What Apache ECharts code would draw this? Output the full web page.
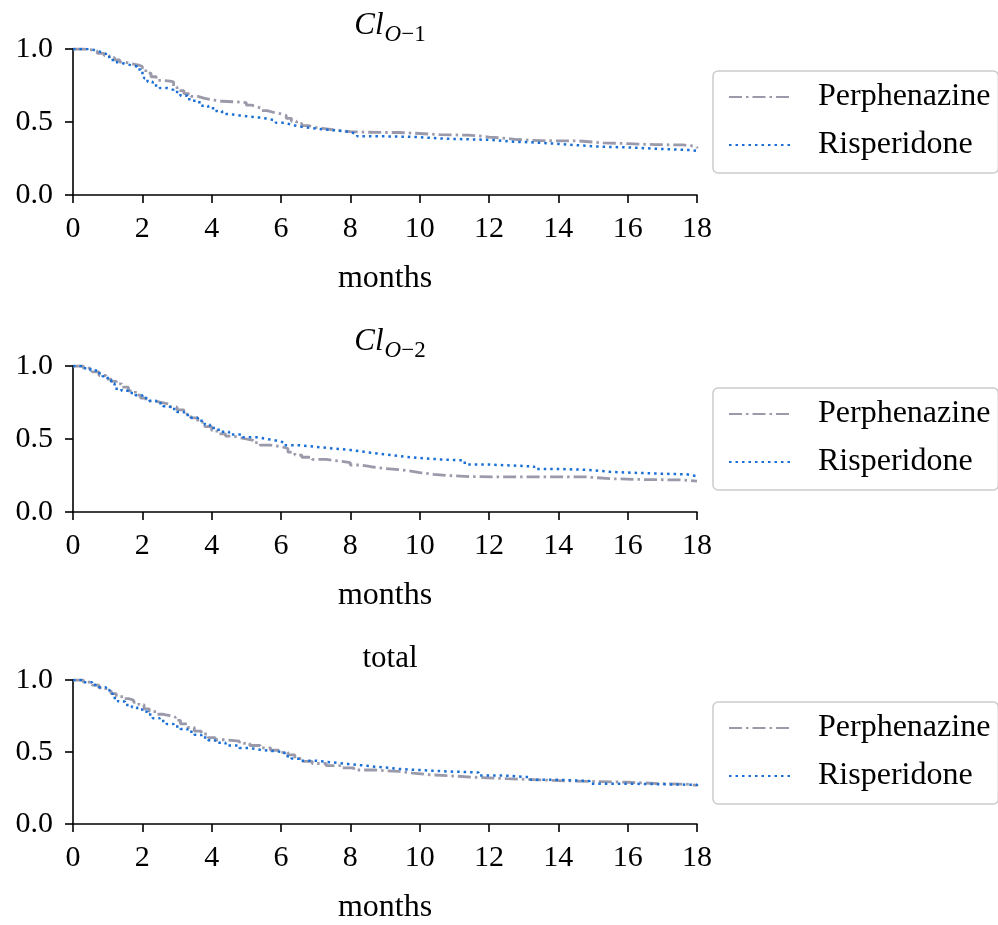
<!DOCTYPE html>
<html>
<head>
<meta charset="utf-8">
<script src="https://cdn.jsdelivr.net/npm/echarts@6/dist/echarts.min.js"></script>
<style>
html,body{margin:0;padding:0;background:#fff;}
#chart{width:998px;height:925px;}
</style>
</head>
<body>
<div id="chart"></div>
<script>
// ---- data ----
var seriesNames = ['Perphenazine', 'Risperidone'];
var xTicks = [0, 2, 4, 6, 8, 10, 12, 14, 16, 18];
var yTicks = [0.0, 0.5, 1.0];

// Panel 1: Cl_{O-1}
var p1PerphT = [0,0.3,0.5,0.7,0.9,1.05,1.2,1.35,1.5,1.7,1.9,2.0,2.1,2.25,2.4,2.6,2.8,2.9,3.0,3.2,3.4,3.6,3.8,4.0,4.3,4.7,5.0,5.15,5.3,5.45,5.6,5.8,6.0,6.15,6.3,6.45,6.6,6.8,7.0,7.25,7.5,7.75,8.0,8.5,9.0,9.4,9.8,10.6,11.4,11.7,12.0,12.4,12.8,13.5,14.6,15.3,16.0,16.8,17.6,17.9,18];
var p1PerphS = [1.0,0.995,0.985,0.97,0.955,0.94,0.925,0.91,0.898,0.89,0.88,0.86,0.835,0.81,0.785,0.78,0.775,0.74,0.715,0.695,0.675,0.662,0.652,0.642,0.638,0.632,0.615,0.605,0.592,0.578,0.565,0.556,0.545,0.525,0.505,0.49,0.475,0.463,0.455,0.447,0.44,0.434,0.43,0.428,0.428,0.424,0.413,0.41,0.405,0.397,0.39,0.38,0.372,0.37,0.357,0.352,0.345,0.343,0.335,0.325,0.32];
var p1RispT = [0,0.5,0.65,0.8,0.95,1.05,1.2,1.35,1.5,1.7,1.85,1.95,2.05,2.15,2.3,2.5,2.7,2.9,3.1,3.3,3.5,3.7,3.9,4.1,4.3,4.5,4.8,5.0,5.3,5.6,5.85,6.1,6.3,6.5,6.9,7.4,7.8,8.0,8.2,9.0,9.8,10.8,12.0,12.7,13.3,14.0,14.6,15.3,16.0,17.0,17.8,18];
var p1RispS = [1.0,0.99,0.98,0.968,0.945,0.925,0.91,0.898,0.888,0.88,0.86,0.835,0.8,0.775,0.75,0.733,0.72,0.705,0.68,0.655,0.635,0.612,0.595,0.575,0.555,0.545,0.54,0.533,0.523,0.51,0.495,0.482,0.47,0.458,0.446,0.438,0.43,0.418,0.402,0.398,0.385,0.378,0.365,0.36,0.35,0.34,0.33,0.326,0.315,0.308,0.303,0.30];

// Panel 2: Cl_{O-2}
var p2PerphT = [0,0.3,0.55,0.75,0.95,1.1,1.25,1.4,1.6,1.8,1.95,2.1,2.35,2.6,2.8,3.0,3.2,3.4,3.6,3.8,4.0,4.15,4.4,4.6,4.8,5.0,5.2,5.4,5.7,6.0,6.2,6.4,6.6,6.9,7.3,7.7,8.0,8.3,8.6,9.0,9.4,9.7,10.0,10.4,10.8,11.5,13.0,14.8,15.5,16.5,17.5,18];
var p2PerphS = [1.0,0.985,0.96,0.935,0.91,0.895,0.878,0.855,0.83,0.8,0.78,0.76,0.748,0.738,0.72,0.7,0.67,0.645,0.615,0.585,0.56,0.535,0.52,0.51,0.5,0.49,0.475,0.458,0.448,0.435,0.41,0.39,0.375,0.36,0.348,0.338,0.322,0.31,0.298,0.29,0.282,0.27,0.258,0.25,0.242,0.24,0.24,0.228,0.222,0.22,0.212,0.208];
var p2RispT = [0,0.3,0.5,0.7,0.85,1.0,1.1,1.2,1.4,1.6,1.8,2.0,2.2,2.4,2.6,2.8,3.0,3.2,3.4,3.6,3.8,3.95,4.2,4.5,4.9,5.3,5.6,5.9,6.1,6.5,7.0,7.5,8.0,8.4,8.8,9.2,9.6,10.0,10.6,11.3,12.0,12.7,13.3,14.0,14.9,15.5,16.0,17.0,17.7,18];
var p2RispS = [1.0,0.985,0.97,0.95,0.93,0.905,0.88,0.845,0.83,0.815,0.8,0.78,0.762,0.745,0.725,0.705,0.685,0.665,0.645,0.625,0.6,0.575,0.55,0.53,0.512,0.5,0.488,0.476,0.458,0.446,0.435,0.425,0.412,0.4,0.39,0.378,0.37,0.36,0.353,0.325,0.318,0.312,0.295,0.288,0.275,0.27,0.262,0.258,0.245,0.237];

// Panel 3: total
var p3PerphT = [0,0.3,0.55,0.75,0.95,1.1,1.25,1.45,1.6,1.75,1.9,2.05,2.2,2.4,2.6,2.8,2.95,3.1,3.3,3.5,3.7,3.9,4.1,4.4,4.8,5.1,5.4,5.7,6.0,6.2,6.4,6.6,6.9,7.3,7.7,8.1,8.7,9.4,9.8,10.3,11.0,11.7,12.5,13.4,14.2,15.1,16.0,17.0,17.7,18];
var p3PerphS = [1.0,0.985,0.965,0.945,0.925,0.905,0.885,0.87,0.86,0.845,0.828,0.8,0.78,0.762,0.752,0.742,0.72,0.695,0.67,0.645,0.625,0.6,0.585,0.575,0.56,0.545,0.528,0.512,0.498,0.48,0.455,0.435,0.42,0.405,0.39,0.375,0.365,0.353,0.342,0.333,0.323,0.315,0.307,0.3,0.295,0.29,0.28,0.277,0.268,0.262];
var p3RispT = [0,0.3,0.55,0.75,0.95,1.05,1.15,1.3,1.5,1.7,1.85,2.0,2.15,2.3,2.5,2.7,2.9,3.1,3.3,3.5,3.7,3.9,4.1,4.4,4.8,5.1,5.4,5.7,6.1,6.3,6.5,7.0,7.3,7.7,8.0,8.4,8.7,9.1,9.4,9.8,10.8,11.7,12.4,13.2,14.0,14.9,16.0,17.0,18];
var p3RispS = [1.0,0.985,0.965,0.95,0.93,0.905,0.875,0.85,0.827,0.81,0.795,0.78,0.76,0.735,0.715,0.695,0.677,0.66,0.64,0.62,0.6,0.582,0.565,0.545,0.528,0.515,0.508,0.5,0.47,0.455,0.44,0.432,0.423,0.415,0.406,0.398,0.39,0.383,0.377,0.365,0.358,0.337,0.325,0.307,0.298,0.28,0.276,0.272,0.265];

// ---- build chart ----
var FONT = 'Liberation Serif';
var panels = [
  {title: '{i|Cl}{si|O}{s|\u22121}', perph: [p1PerphT, p1PerphS], risp: [p1RispT, p1RispS]},
  {title: '{i|Cl}{si|O}{s|\u22122}', perph: [p2PerphT, p2PerphS], risp: [p2RispT, p2RispS]},
  {title: 'total', perph: [p3PerphT, p3PerphS], risp: [p3RispT, p3RispS]}
];
var gridTops = [49, 366, 680];
var titleTops = [2, 318, 638];
var legendTops = [71, 388, 702];

function zip(t, s) { return t.map(function (v, i) { return [v, s[i]]; }); }

var option = {
  animation: false,
  backgroundColor: '#ffffff',
  textStyle: {fontFamily: FONT},
  title: [], grid: [], xAxis: [], yAxis: [], legend: [], series: []
};

panels.forEach(function (p, k) {
  option.title.push({
    text: p.title,
    left: 385, top: titleTops[k], textAlign: 'center',
    textStyle: {
      fontFamily: FONT, fontSize: 31, fontWeight: 'normal', color: '#000',
      rich: {
        i: {fontFamily: FONT, fontSize: 31, fontStyle: 'italic', color: '#000', lineHeight: 34, verticalAlign: 'bottom'},
        si: {fontFamily: FONT, fontSize: 23, fontStyle: 'italic', color: '#000', lineHeight: 20, verticalAlign: 'bottom', padding: [0, 0, -5, 1]},
        s: {fontFamily: FONT, fontSize: 23, color: '#000', lineHeight: 20, verticalAlign: 'bottom', padding: [0, 0, -5, 0]}
      }
    }
  });
  option.grid.push({left: 73, top: gridTops[k], width: 624, height: 146, containLabel: false});
  option.xAxis.push({
    type: 'value', gridIndex: k, min: xTicks[0], max: xTicks[xTicks.length - 1], interval: 2,
    name: 'months', nameLocation: 'middle', nameGap: 68,
    nameTextStyle: {fontFamily: FONT, fontSize: 32, color: '#000'},
    axisLine: {show: true, lineStyle: {color: '#000', width: 1.6}},
    axisTick: {show: true, inside: false, length: 8, lineStyle: {color: '#000', width: 1.6}},
    axisLabel: {fontFamily: FONT, fontSize: 30, color: '#000', margin: 19},
    splitLine: {show: false}
  });
  option.yAxis.push({
    type: 'value', gridIndex: k, min: yTicks[0], max: yTicks[yTicks.length - 1], interval: 0.5,
    axisLine: {show: true, lineStyle: {color: '#000', width: 1.6}},
    axisTick: {show: true, inside: false, length: 8, lineStyle: {color: '#000', width: 1.6}},
    axisLabel: {fontFamily: FONT, fontSize: 30, color: '#000', margin: 20,
      formatter: function (v) { return v.toFixed(1); }},
    splitLine: {show: false}
  });
  option.legend.push({
    orient: 'vertical', left: 713, top: legendTops[k],
    data: seriesNames,
    itemWidth: 62, itemHeight: 14, itemGap: 16,
    padding: [10, 8, 12, 15],
    borderColor: '#cccccc', borderWidth: 1.5, borderRadius: 5, backgroundColor: '#fff',
    selectedMode: false,
    itemStyle: {opacity: 0},
    textStyle: {fontFamily: FONT, fontSize: 32, color: '#000', padding: [0, 0, 0, 22]}
  });
  option.series.push({
    name: seriesNames[0], type: 'line', xAxisIndex: k, yAxisIndex: k, step: 'end',
    data: zip(p.perph[0], p.perph[1]), symbol: 'none', z: 2,
    lineStyle: {color: '#9a9aab', width: 2.8, type: [13, 4, 2.5, 4]},
    itemStyle: {color: '#9a9aab'}
  });
  option.series.push({
    name: seriesNames[1], type: 'line', xAxisIndex: k, yAxisIndex: k, step: 'end',
    data: zip(p.risp[0], p.risp[1]), symbol: 'none', z: 3,
    lineStyle: {color: '#1a6fd6', width: 2.5, type: [2.5, 4]},
    itemStyle: {color: '#1a6fd6'}
  });
});

var chart = echarts.init(document.getElementById('chart'), null, {renderer: 'canvas'});
chart.setOption(option);
</script>
</body>
</html>
